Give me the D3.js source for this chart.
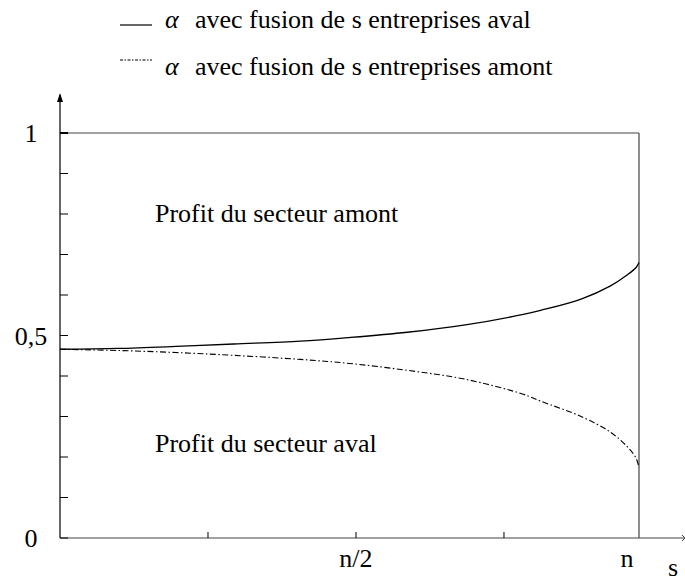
<!DOCTYPE html>
<html><head><meta charset="utf-8">
<script src="https://cdn.jsdelivr.net/npm/d3@7/dist/d3.min.js"></script>
<style>
body{margin:0;background:#fff;}
</style></head>
<body>
<script>
// s as a fraction of n
const sValues   = [0, 0.1, 0.2, 0.3, 0.415, 0.5, 0.6, 0.7, 0.8, 0.83, 0.9, 0.95, 0.98, 0.995, 1];
const alphaAval = [0.466, 0.468, 0.473, 0.479, 0.486, 0.495, 0.508, 0.526, 0.552, 0.562, 0.590, 0.622, 0.650, 0.668, 0.68];
const alphaAmont= [0.466, 0.463, 0.458, 0.451, 0.441, 0.431, 0.414, 0.392, 0.355, 0.338, 0.300, 0.262, 0.225, 0.197, 0.173];
const yTickValues = [0,0.1,0.2,0.3,0.4,0.5,0.6,0.7,0.8,0.9,1];
const yTickLabels = {0:"0", 0.5:"0,5", 1:"1"};
const xTickValues = [0.2556, 0.5112, 0.7668];
const xTickLabels = ["", "n/2", ""];
const legendLabels = ["avec fusion de s entreprises aval", "avec fusion de s entreprises amont"];
const regionLabels = ["Profit du secteur amont", "Profit du secteur aval"];

const W=685,H=583;
const FF='"Liberation Serif"';
const svg=d3.select("body").append("svg").attr("width",W).attr("height",H);
const x=d3.scaleLinear().domain([0,1]).range([60,639]);
const y=d3.scaleLinear().domain([0,1]).range([538,133]);
const FS=26;
function txt(xp,yp,s,anchor){
  return svg.append("text").attr("x",xp).attr("y",yp).attr("text-anchor",anchor||"start")
    .style("font-family",FF).style("font-size",FS+"px").attr("fill","#000").text(s);
}

// frame
svg.append("line").attr("x1",x(0)).attr("x2",x(1)).attr("y1",y(1)).attr("y2",y(1)).attr("stroke","#444").attr("stroke-width",1.2);
svg.append("line").attr("x1",x(1)).attr("x2",x(1)).attr("y1",y(1)).attr("y2",y(0)).attr("stroke","#444").attr("stroke-width",1.2);
// x axis
svg.append("line").attr("x1",x(0)).attr("x2",684).attr("y1",y(0)).attr("y2",y(0)).attr("stroke","#444").attr("stroke-width",1.2);
svg.append("path").attr("d",`M682,${y(0)-3}L685,${y(0)}L682,${y(0)+3}`).attr("stroke","#444").attr("fill","none");
// y axis with arrow
svg.append("line").attr("x1",x(0)).attr("x2",x(0)).attr("y1",y(0)).attr("y2",95).attr("stroke","#000").attr("stroke-width",1.2);
svg.append("path").attr("d",`M${x(0)-3},102L${x(0)},93L${x(0)+3},102Z`).attr("fill","#000");

// y ticks
svg.selectAll(".yt").data(yTickValues).enter().append("line")
 .attr("x1",x(0)).attr("x2",x(0)+8).attr("y1",d=>y(d)).attr("y2",d=>y(d))
 .attr("stroke","#000").attr("stroke-width",d=>d===1?2:1);
yTickValues.filter(d=>yTickLabels[d]!==undefined).forEach(d=>txt(31,y(d)+9,yTickLabels[d],"middle"));

// x ticks
svg.selectAll(".xt").data(xTickValues).enter().append("line")
 .attr("x1",d=>x(d)).attr("x2",d=>x(d)).attr("y1",y(0)).attr("y2",y(0)-6).attr("stroke","#000");
xTickValues.forEach((d,i)=>{ if(xTickLabels[i]) txt(x(d),567,xTickLabels[i],"middle"); });
txt(627,567,"n","middle");
txt(668,576,"s");

// curves
const line=d3.line().curve(d3.curveCatmullRom.alpha(0.5));
svg.append("path").attr("d",line(sValues.map((s,i)=>[x(s),y(alphaAval[i])])))
 .attr("fill","none").attr("stroke","#000").attr("stroke-width",1.3);
svg.append("path").attr("d",line(sValues.map((s,i)=>[x(s),y(alphaAmont[i])])))
 .attr("fill","none").attr("stroke","#000").attr("stroke-width",1.1).attr("stroke-dasharray","6,2.5,1.5,2.5");

// region labels
txt(155,222,regionLabels[0]);
txt(155,452,regionLabels[1]);

// legend
const lg=[{ly:25,ty:28,dash:null},{ly:60,ty:75,dash:"3,1.5,1.5,1.5"}];
lg.forEach((g,i)=>{
  svg.append("line").attr("x1",120).attr("x2",152).attr("y1",g.ly).attr("y2",g.ly)
   .attr("stroke","#000").attr("stroke-width",1.2).attr("stroke-dasharray",g.dash);
  txt(165,g.ty,"α").style("font-style","italic");
  txt(195,g.ty,legendLabels[i]);
});
</script>
</body></html>
